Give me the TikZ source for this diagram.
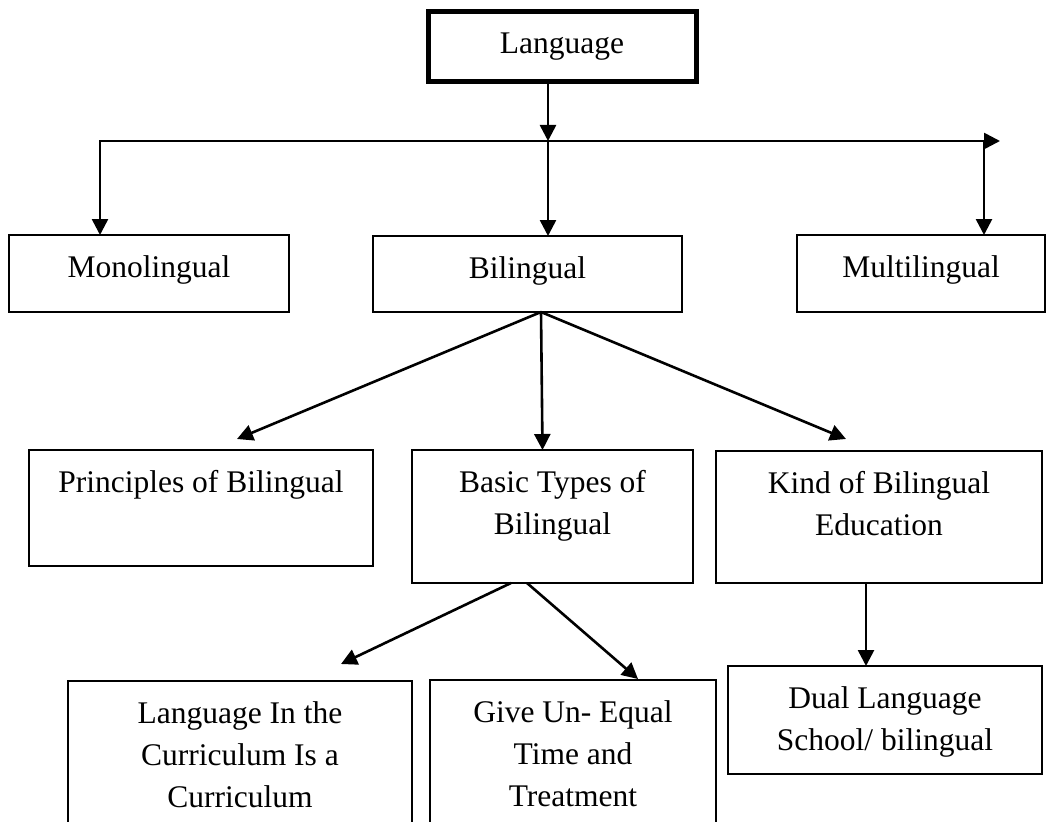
\documentclass[tikz,border=0pt]{standalone}
\usepackage{fontspec}
\setmainfont{Liberation Serif}
\usetikzlibrary{arrows.meta,calc}
\newcommand{\bxt}[3]{\parbox[c][#2][t]{#1}{\centering\rule{0pt}{42pt}#3\par}}
\begin{document}
\begin{tikzpicture}[x=1pt,y=-1pt,
  every node/.style={font=\fontsize{31.5}{42}\selectfont},
  box/.style={draw,line width=2.3pt,inner sep=0pt,outer sep=0pt},
  tip/.tip={Triangle[length=16pt,width=16pt]},
  arr/.style={line width=2.6pt,-tip},
  ]
\clip (0,0) rectangle (1048,821);
\fill[white] (0,0) rectangle (1048,821);
% nodes
\node[draw,line width=5pt,minimum width=268pt,minimum height=70pt,inner sep=0pt] (lang) at (562,47) {Language};
\node[box] (mono)  at (149,273.5) {\bxt{280pt}{77pt}{Monolingual}};
\node[box] (bil)   at (527.5,274) {\bxt{309pt}{76pt}{Bilingual}};
\node[box] (multi) at (921,273.5) {\bxt{248pt}{77pt}{Multilingual}};
\node[box] (prin)  at (201,508)   {\bxt{344pt}{116pt}{Principles of Bilingual}};
\node[box] (basic) at (552.5,516.5) {\bxt{281pt}{133pt}{Basic Types of\\Bilingual}};
\node[box] (kind)  at (879,517)   {\bxt{326pt}{132pt}{Kind of Bilingual\\Education}};
\node[box] (lic)   at (240,771)   {\bxt{344pt}{180pt}{Language In the\\Curriculum Is a\\Curriculum}};
\node[box] (give)  at (573,770)   {\bxt{286pt}{180pt}{Give Un- Equal\\Time and\\Treatment}};
\node[box] (dual)  at (885,720)   {\bxt{314pt}{108pt}{Dual Language\\School/ bilingual}};
% junction coordinates
\coordinate (hl) at (100,141);
\coordinate (hr) at (1000,141);
\coordinate (j)  at (548,141);
\coordinate (jr) at (984,141);
\coordinate (bs) at ($(bil.south)+(13.5,0)$);
\coordinate (ks) at ($(kind.south)+(-13,0)$);
% connectors
\draw[arr] (lang.south -| j) -- (j);
\draw[line width=2.6pt,tip-tip] (mono.north -| hl) -- (hl) -- (hr);
\draw[arr] (jr) -- (multi.north -| jr);
\draw[arr] (j) -- (bil.north -| j);
\draw[arr] (bs) -- ($(prin.north)+(36,-11)$);
\draw[arr] (bs) -- ($(basic.north)+(-10,0)$);
\draw[arr] (bs) -- ($(kind.north)+(-33,-12)$);
\draw[arr] ($(basic.south)+(-41.5,0)$) -- ($(lic.north)+(101,-17)$);
\draw[arr] ($(basic.south)+(-25.5,0)$) -- ($(give.north)+(65,-1)$);
\draw[arr] (ks) -- (dual.north -| ks);
\end{tikzpicture}
\end{document}
